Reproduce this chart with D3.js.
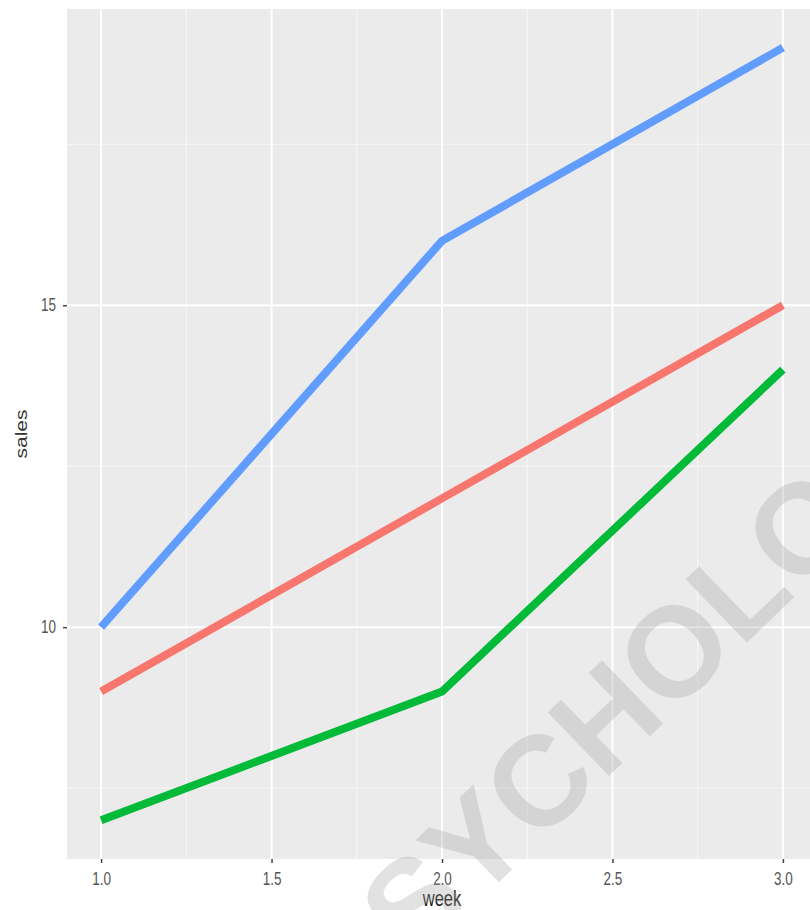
<!DOCTYPE html>
<html>
<head>
<meta charset="utf-8">
<script src="https://cdn.jsdelivr.net/npm/d3@7"></script>
<style>
  body { margin: 0; background: #fff; }
  text { font-family: "Liberation Sans", Arial, sans-serif; }
</style>
</head>
<body>
<div class="chart"></div>
<script>
// data
var weeks = [1, 2, 3];
var seriesNames = ["red", "green", "blue"];
var redSales = [9, 12, 15];
var greenSales = [7, 9, 14];
var blueSales = [10, 16, 19];
var seriesColors = ["#F8766D", "#00BA38", "#619CFF"];
var xTicks = [1.0, 1.5, 2.0, 2.5, 3.0];
var xMinor = [1.25, 1.75, 2.25, 2.75];
var yTicks = [10, 15];
var yMinor = [7.5, 12.5, 17.5];

var svgWidth = 810, svgHeight = 910;
var margin = {top: 9, right: -7, bottom: 51, left: 67};
var width = svgWidth - margin.left - margin.right;
var height = svgHeight - margin.top - margin.bottom;
// the picture is squeezed sideways, so the text is too
var squeeze = 0.75;

var svg = d3.select(".chart")
  .append("svg")
  .attr("width", svgWidth)
  .attr("height", svgHeight);

var g = svg.append("g")
  .attr("transform", `translate(${margin.left}, ${margin.top})`);

// ggplot style 5% expansion
var xscale = d3.scaleLinear().domain([0.9, 3.1]).range([0, width]);
var yscale = d3.scaleLinear().domain([6.4, 19.6]).range([height, 0]);

// panel
g.append("rect")
  .attr("width", width)
  .attr("height", height)
  .attr("fill", "#ebebeb");

// minor grid
g.selectAll(".xminor").data(xMinor).enter().append("line")
  .attr("x1", d => xscale(d)).attr("x2", d => xscale(d))
  .attr("y1", 0).attr("y2", height)
  .attr("stroke", "#f7f7f7").attr("stroke-width", 1);
g.selectAll(".yminor").data(yMinor).enter().append("line")
  .attr("y1", d => yscale(d)).attr("y2", d => yscale(d))
  .attr("x1", 0).attr("x2", width)
  .attr("stroke", "#f7f7f7").attr("stroke-width", 1);

// major grid
g.selectAll(".xmajor").data(xTicks).enter().append("line")
  .attr("x1", d => xscale(d)).attr("x2", d => xscale(d))
  .attr("y1", 0).attr("y2", height)
  .attr("stroke", "#fff").attr("stroke-width", 2);
g.selectAll(".ymajor").data(yTicks).enter().append("line")
  .attr("y1", d => yscale(d)).attr("y2", d => yscale(d))
  .attr("x1", 0).attr("x2", width)
  .attr("stroke", "#fff").attr("stroke-width", 2);

// axes
var bottomAxis = d3.axisBottom(xscale).tickValues(xTicks)
  .tickFormat(d3.format(".1f")).tickSize(4).tickPadding(9);
var leftAxis = d3.axisLeft(yscale).tickValues(yTicks).tickSize(4);

var xAxisG = g.append("g").attr("transform", `translate(0,${height})`).call(bottomAxis);
var yAxisG = g.append("g").call(leftAxis);
[xAxisG, yAxisG].forEach(function(a) {
  a.select(".domain").remove();
  a.selectAll(".tick line").attr("stroke", "#444").attr("stroke-width", 1.5);
  a.selectAll(".tick text")
    .attr("fill", "#555")
    .attr("transform", `scale(${squeeze},1)`)
    .style("font-size", "18px");
});
yAxisG.selectAll(".tick text").attr("x", -11 / squeeze);

// lines
var allSales = [redSales, greenSales, blueSales];
var line = d3.line()
  .x((d, i) => xscale(weeks[i]))
  .y(d => yscale(d));

g.selectAll(".series")
  .data(allSales)
  .enter()
  .append("path")
  .attr("d", d => line(d))
  .attr("fill", "none")
  .attr("stroke", (d, i) => seriesColors[i])
  .attr("stroke-width", 8);

// axis titles
svg.append("text")
  .attr("transform", `translate(${margin.left + xscale(2)}, 906)scale(${squeeze},1)`)
  .attr("text-anchor", "middle")
  .style("font-size", "22px")
  .attr("fill", "#1a1a1a")
  .text("week");

svg.append("text")
  .attr("transform", `translate(27, ${margin.top + height / 2})scale(${squeeze},1)rotate(-90)`)
  .attr("text-anchor", "middle")
  .style("font-size", "21px")
  .attr("fill", "#333")
  .text("sales");

// watermark
svg.append("text")
  .attr("transform", "translate(352, 1024)rotate(-44)")
  .style("font-size", "128px")
  .style("font-weight", "bold")
  .attr("fill", "#a0a0a0")
  .attr("opacity", 0.3)
  .text("PSYCHOLOGY");
</script>
</body>
</html>
